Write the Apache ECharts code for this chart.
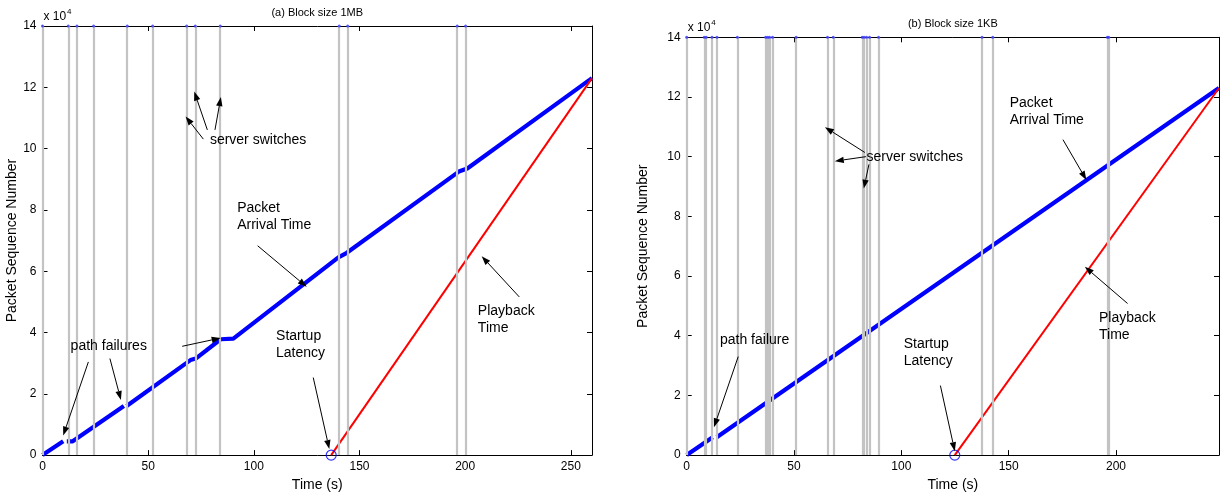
<!DOCTYPE html>
<html>
<head>
<meta charset="utf-8">
<script src="https://cdn.jsdelivr.net/npm/echarts@6/dist/echarts.min.js"></script>
<style>
html,body{margin:0;padding:0;background:#fff;}
#c{width:1227px;height:497px;}
</style>
</head>
<body>
<div id="c"></div>
<script>
// ---- data (packet numbers in units of 1e4, time in seconds) ----
const xTicks = [0, 50, 100, 150, 200, 250];
const yTicks = [0, 2, 4, 6, 8, 10, 12, 14];
const titles = ['(a) Block size 1MB', '(b) Block size 1KB'];
const xMaxA = 260, xMaxB = 248;

const switchesA = [0, 12.2, 16.3, 24.2, 40.1, 52.1, 68.2, 72.3, 84.1, 140.4, 144.4, 196.2, 200.2];
const switchesB = [0, 8.2, 9.1, 11.8, 14.1, 23.6, 36.8, 37.7, 38.6, 40.0, 51.0, 65.6, 68.3, 81.8, 82.7, 83.8, 85.2, 89.4, 137.6, 142.6, 196.0, 196.6];

const arrivalA = [[0,0],[9.8,0.45],null,[11.5,0.45],[14.3,0.45],[38.5,1.6],null,[39.8,1.6],[70,3.1],[72.5,3.15],[84.3,3.78],[90.3,3.8],[140,6.45],[144,6.6],[197,9.25],[201,9.35],[260,12.3]];
const playbackA = [[136.6,0],[260,12.3]];
const startA = [136.6, 0];

const arrivalB = [[0,0],[12.1,0.6],null,[14,0.6],[248,12.3]];
const playbackB = [[124.9,0],[248,12.3]];
const startB = [124.9, 0];

const notesA = [
  {text:'server switches', at:[79.2,10.26]},
  {text:'Packet\nArrival Time', at:[92.1,8.05]},
  {text:'path failures', at:[13.3,3.55]},
  {text:'Startup\nLatency', at:[110.5,3.87]},
  {text:'Playback\nTime', at:[206.0,4.71]}
];
const arrowsA = [
  [[76.1,10.31],[67.7,11.05]],
  [[78.0,10.61],[71.8,11.86]],
  [[81.6,10.61],[84.4,11.68]],
  [[101.8,6.83],[125.0,5.49]],
  [[21.7,3.04],[9.8,0.64]],
  [[31.9,3.15],[37.1,1.80]],
  [[66.1,3.55],[84.3,3.82]],
  [[128.1,2.53],[135.7,0.20]],
  [[225.6,5.16],[207.8,6.49]]
];
const notesB = [
  {text:'server switches', at:[83.8,10.0]},
  {text:'Packet\nArrival Time', at:[150.5,11.78]},
  {text:'path failure', at:[15.5,3.84]},
  {text:'Startup\nLatency', at:[101.1,3.73]},
  {text:'Playback\nTime', at:[192.1,4.58]}
];
const arrowsB = [
  [[83.0,10.14],[64.4,10.99]],
  [[83.5,10.0],[69.0,9.85]],
  [[84.9,9.74],[82.5,8.93]],
  [[175.3,10.57],[186.2,9.22]],
  [[24.0,3.30],[12.7,0.93]],
  [[118.2,2.33],[124.9,0.13]],
  [[205.4,5.08],[185.5,6.31]]
];

// ---- chart ----
const FONT = '"Liberation Sans", Arial, Helvetica, sans-serif';
const chart = echarts.init(document.getElementById('c'), null, {renderer:'canvas'});

const grids = [
  {left:42.5, top:26, width:549.5, height:433},
  {left:686.7, top:37.3, width:532.3, height:420}
];
const xMax = [xMaxA, xMaxB];

function xAx(g, pos){
  const main = pos === 'bottom';
  return {
    type:'value', gridIndex:g, position:pos, min:0, max:xMax[g], interval:50,
    axisLine:{show:true, onZero:false, lineStyle:{color:'#000', width:1}},
    axisTick:{show:true, inside:true, length:5, lineStyle:{color:'#000'}},
    axisLabel:{show:main, color:'#000', fontSize:12, fontFamily:FONT, margin:6,
      showMaxLabel: xTicks.indexOf(xMax[g]) >= 0},
    splitLine:{show:false},
    name: main ? 'Time (s)' : '', nameLocation:'middle', nameGap: g===0 ? 19 : 21,
    nameTextStyle:{color:'#000', fontSize:14, fontFamily:FONT}
  };
}
function yAx(g, pos){
  const main = pos === 'left';
  return {
    type:'value', gridIndex:g, position:pos, min:0, max:14, interval:2,
    axisLine:{show:true, onZero:false, lineStyle:{color:'#000', width:1}},
    axisTick:{show:true, inside:true, length:5, lineStyle:{color:'#000'}},
    axisLabel:{show:main, color:'#000', fontSize:12, fontFamily:FONT, margin:6},
    splitLine:{show:false},
    name: main ? 'Packet Sequence Number' : '', nameLocation:'middle', nameGap: g===0 ? 23 : 37,
    nameRotate:90,
    nameTextStyle:{color:'#000', fontSize:14, fontFamily:FONT}
  };
}

function switchSeries(g, arr){
  return {
    type:'line', xAxisIndex:g, yAxisIndex:g, data:[], z:1, silent:true,
    markLine:{
      silent:true, symbol:['none','none'], animation:false,
      label:{show:false},
      lineStyle:{color:'#c3c3c3', width:2.2, type:'solid'},
      emphasis:{disabled:true},
      data: arr.map(v => ({xAxis:v}))
    }
  };
}
function topDots(g, arr){
  return {type:'scatter', xAxisIndex:g, yAxisIndex:g, z:5, symbolSize:3, silent:true,
    itemStyle:{color:'#3030ff'}, data: arr.map(v => [v, 14])};
}
function lineSeries(g, data, color, width){
  return {type:'line', xAxisIndex:g, yAxisIndex:g, data:data, z:3, showSymbol:false,
    connectNulls:false, silent:true, lineStyle:{color:color, width:width}, itemStyle:{color:color}};
}
function startMark(g, pt){
  return {type:'scatter', xAxisIndex:g, yAxisIndex:g, z:6, symbol:'circle', symbolSize:10, silent:true,
    itemStyle:{color:'rgba(0,0,0,0)', borderColor:'#0000ff', borderWidth:1.2}, data:[pt]};
}

const option = {
  animation:false,
  backgroundColor:'#fff',
  grid: grids,
  xAxis:[xAx(0,'bottom'), xAx(1,'bottom'), xAx(0,'top'), xAx(1,'top')],
  yAxis:[yAx(0,'left'), yAx(1,'left'), yAx(0,'right'), yAx(1,'right')],
  series:[
    switchSeries(0, switchesA), switchSeries(1, switchesB),
    topDots(0, switchesA), topDots(1, switchesB),
    lineSeries(0, arrivalA, '#0000ff', 4.2), lineSeries(1, arrivalB, '#0000ff', 4.2),
    lineSeries(0, playbackA, '#ff0000', 2), lineSeries(1, playbackB, '#ff0000', 2),
    startMark(0, startA), startMark(1, startB)
  ]
};
chart.setOption(option);

// ---- annotations placed in data coordinates ----
function toPx(g, pt){ return chart.convertToPixel({xAxisIndex:g, yAxisIndex:g}, pt); }
const gfx = [];
function addNotes(g, notes){
  notes.forEach(n => {
    const p = toPx(g, n.at);
    gfx.push({type:'text', z:10, silent:true, style:{
      text:n.text, x:p[0], y:p[1] - 8.5, fill:'#000', fontSize:14, fontFamily:FONT,
      lineHeight:17, align:'left', verticalAlign:'top'}});
  });
}
function addArrows(g, arrows){
  arrows.forEach(a => {
    const p0 = toPx(g, a[0]), p1 = toPx(g, a[1]);
    const dx = p1[0]-p0[0], dy = p1[1]-p0[1];
    const L = Math.sqrt(dx*dx+dy*dy), ux = dx/L, uy = dy/L;
    const hl = 9, hw = 3.2;
    const bx = p1[0]-ux*hl, by = p1[1]-uy*hl;
    gfx.push({type:'line', z:10, silent:true, shape:{x1:p0[0], y1:p0[1], x2:bx, y2:by},
      style:{stroke:'#000', lineWidth:1}});
    gfx.push({type:'polygon', z:10, silent:true, shape:{points:[[p1[0],p1[1]],[bx-uy*hw, by+ux*hw],[bx+uy*hw, by-ux*hw]]},
      style:{fill:'#000'}});
  });
}
addNotes(0, notesA); addNotes(1, notesB);
addArrows(0, arrowsA); addArrows(1, arrowsB);

[0,1].forEach(g => {
  const tl = toPx(g, [0, 14]);
  const c = toPx(g, [xMax[g]/2, 14]);
  gfx.push({type:'text', silent:true, style:{text:'x 10', x:tl[0]+1, y:tl[1]-9.5, fill:'#000',
    fontSize:12, fontFamily:FONT, align:'left', verticalAlign:'middle'}});
  gfx.push({type:'text', silent:true, style:{text:'4', x:tl[0]+24.5, y:tl[1]-14.5, fill:'#000',
    fontSize:8, fontFamily:FONT, align:'left', verticalAlign:'middle'}});
  gfx.push({type:'text', silent:true, style:{text:titles[g], x:c[0], y:tl[1]-13.5, fill:'#000',
    fontSize:11, fontFamily:FONT, align:'center', verticalAlign:'middle'}});
});
chart.setOption({graphic: gfx});
</script>
</body>
</html>
